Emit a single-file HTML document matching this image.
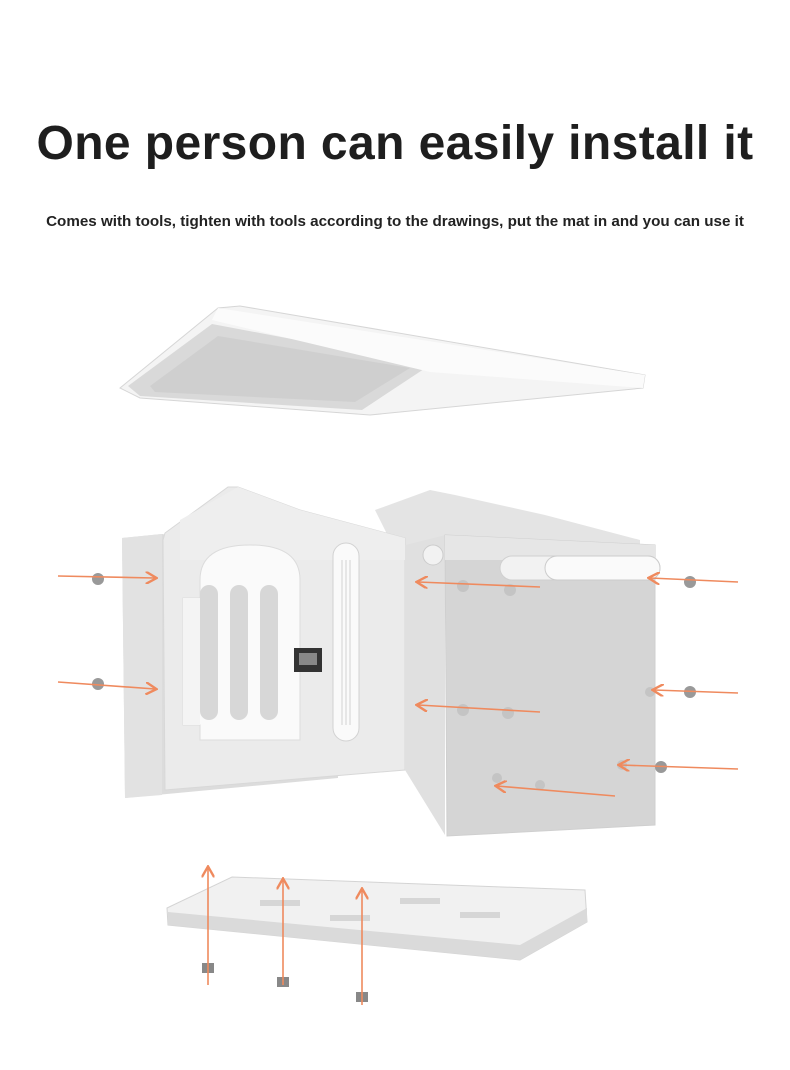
<!DOCTYPE html>
<html><head><meta charset="utf-8"><style>
html,body{margin:0;padding:0;background:#fff;}
body{width:790px;height:1070px;position:relative;overflow:hidden;font-family:"Liberation Sans",sans-serif;}
h1{position:absolute;top:116px;left:0;width:790px;text-align:center;margin:0;font-size:48px;font-weight:bold;color:#1e1e1e;letter-spacing:0.4px;}
p{position:absolute;top:213px;left:0;width:790px;text-align:center;margin:0;font-size:15.2px;font-weight:bold;color:#222;}
svg{position:absolute;left:0;top:0;}
</style></head><body>
<h1>One person can easily install it</h1>
<p>Comes with tools, tighten with tools according to the drawings, put the mat in and you can use it</p>
<svg width="790" height="1070" viewBox="0 0 790 1070">
<defs>
<marker id="ah" markerWidth="8" markerHeight="8" refX="6" refY="4" orient="auto"><path d="M0,0 L7,4 L0,8" fill="none" stroke="#ef8a5e" stroke-width="1.5"/></marker>
</defs>
<polygon points="120,388 218,308 240,306 645,375 643,388 370,415 140,398" fill="#f4f4f4" stroke="#d6d6d6"/>
<polygon points="128,386 212,324 430,365 362,410 140,396" fill="#d9d9d9"/>
<polygon points="150,386 218,336 410,368 355,402 155,392" fill="#cfcfcf"/>
<polygon points="218,308 645,375 643,388 430,372 212,320" fill="#fbfbfb"/>
<polygon points="375,510 430,490 455,495 545,515 640,540 640,560 400,560" fill="#e4e4e4"/>
<polygon points="122,538 162,534 340,560 338,778 125,798" fill="#dcdcdc"/>
<polygon points="122,538 162,534 162,795 125,798" fill="#e2e2e2"/>
<polygon points="165,533 163,540 165,790 405,770 405,538 300,510 238,487 228,487" fill="#ebebeb" stroke="#d8d8d8"/>
<polygon points="180,520 238,487 300,510 405,538 405,560 180,560" fill="#eeeeee"/>
<path d="M193,598 L200,598 L200,580 Q200,545 250,545 Q300,545 300,580 L300,648 L300,740 L200,740 L200,725 L183,725 L183,598 Z" fill="#fafafa" stroke="#dcdcdc"/>
<rect x="183" y="598" width="17" height="127" fill="#f4f4f4"/>
<rect x="200" y="585" width="18" height="135" rx="9" fill="#d7d7d7"/>
<rect x="230" y="585" width="18" height="135" rx="9" fill="#d7d7d7"/>
<rect x="260" y="585" width="18" height="135" rx="9" fill="#d7d7d7"/>
<rect x="294" y="648" width="28" height="24" fill="#333"/>
<rect x="299" y="653" width="18" height="12" fill="#888"/>
<rect x="333" y="543" width="26" height="198" rx="13" fill="#fafafa" stroke="#d2d2d2"/>
<g stroke="#d2d2d2" stroke-width="1">
<line x1="342" y1="560" x2="342" y2="725"/><line x1="346" y1="560" x2="346" y2="725"/><line x1="350" y1="560" x2="350" y2="725"/>
</g>
<polygon points="405,545 445,535 445,835 405,770" fill="#e0e0e0"/>
<polygon points="445,535 655,545 655,825 447,836" fill="#d5d5d5" stroke="#cfcfcf"/>
<polygon points="445,535 655,545 655,560 445,560" fill="#e6e6e6"/>
<rect x="500" y="556" width="160" height="24" rx="12" fill="#f2f2f2" stroke="#d0d0d0"/>
<rect x="545" y="556" width="115" height="24" rx="12" fill="#fafafa" stroke="#ccc"/>
<circle cx="433" cy="555" r="10" fill="#f2f2f2" stroke="#ccc"/>
<g fill="#c4c4c4">
<circle cx="463" cy="586" r="6"/><circle cx="510" cy="590" r="6"/><circle cx="463" cy="710" r="6"/><circle cx="508" cy="713" r="6"/><circle cx="650" cy="692" r="5"/><circle cx="497" cy="778" r="5"/><circle cx="540" cy="785" r="5"/><circle cx="622" cy="765" r="5"/>
</g>
<g fill="#999"><circle cx="98" cy="579" r="6"/><circle cx="98" cy="684" r="6"/><circle cx="690" cy="582" r="6"/><circle cx="690" cy="692" r="6"/><circle cx="661" cy="767" r="6"/></g>
<polygon points="167,908 232,877 585,890 587,922 520,960 168,925" fill="#f1f1f1" stroke="#d4d4d4"/>
<polygon points="168,912 520,945 587,908 587,922 520,960 168,925" fill="#dadada"/>
<g fill="#d6d6d6"><rect x="260" y="900" width="40" height="6"/><rect x="400" y="898" width="40" height="6"/><rect x="330" y="915" width="40" height="6"/><rect x="460" y="912" width="40" height="6"/></g>
<g fill="#888"><rect x="202" y="963" width="12" height="10"/><rect x="277" y="977" width="12" height="10"/><rect x="356" y="992" width="12" height="10"/></g>
<g stroke="#ef8a5e" stroke-width="1.6" fill="none" marker-end="url(#ah)">
<line x1="58" y1="576" x2="155" y2="578"/>
<line x1="58" y1="682" x2="155" y2="689"/>
<line x1="540" y1="587" x2="418" y2="582"/>
<line x1="540" y1="712" x2="418" y2="705"/>
<line x1="738" y1="582" x2="650" y2="578"/>
<line x1="738" y1="693" x2="654" y2="690"/>
<line x1="738" y1="769" x2="620" y2="765"/>
<line x1="615" y1="796" x2="497" y2="786"/>
<line x1="208" y1="985" x2="208" y2="868"/>
<line x1="283" y1="985" x2="283" y2="880"/>
<line x1="362" y1="1005" x2="362" y2="890"/>
</g>
</svg>
</body></html>
